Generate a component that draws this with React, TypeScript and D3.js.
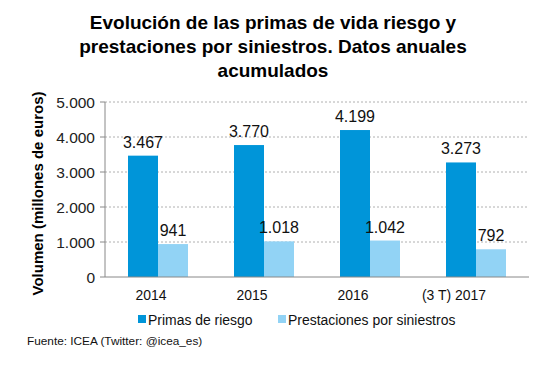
import React from 'react'
import * as d3 from 'd3'

const categories = ['2014', '2015', '2016', '(3 T) 2017']
const primas = [3467, 3770, 4199, 3273]
const prestaciones = [941, 1018, 1042, 792]
const seriesNames = ['Primas de riesgo', 'Prestaciones por siniestros']
const yTicks = [0, 1000, 2000, 3000, 4000, 5000]
const titleLines = ['Evolución de las primas de vida riesgo y', 'prestaciones por siniestros. Datos anuales', 'acumulados']

const colors = ['#0095d9', '#92d3f5']
const font = 'Arial, "Liberation Sans", sans-serif'

const fmt = (v: number) => d3.format(',')(v).replace(/,/g, '.')

const App = () => {
  const width = 546
  const height = 365
  const left = 105
  const right = 529
  const top = 102
  const bottom = 277

  const x = d3.scaleBand().domain(categories).range([left, right])
  // category labels sit slightly left of the bars in the original
  const xLabel = d3.scaleBand().domain(categories).range([100.5, 504.5])
  const y = d3.scaleLinear().domain([0, 5000]).range([bottom, top])
  const barW = 30
  const squeeze = 0.9 // x labels and legend look narrower in the source

  const series = [primas, prestaciones]

  return (
    <svg width={width} height={height} style={{ position: 'absolute', left: 0, top: 0 }} fontFamily={font}>
      <rect width={width} height={height} fill="#fff" />
      {titleLines.map((t, i) => (
        <text key={i} x={273} y={29 + i * 24} textAnchor="middle" fontSize={19} fontWeight="bold" fill="#000">{t}</text>
      ))}
      {yTicks.map(t => (
        <g key={t}>
          {t > 0 && <line x1={left} x2={right} y1={y(t)} y2={y(t)} stroke="#b0b0b0" strokeDasharray="2,2" />}
          <line x1={left - 5} x2={left} y1={y(t)} y2={y(t)} stroke="#888" />
          <text x={left - 10} y={y(t) + 5.5} textAnchor="end" fontSize={15.5} fill="#222">{fmt(t)}</text>
        </g>
      ))}
      {categories.map((c, i) => {
        const cx = x(c)! + x.bandwidth() / 2
        return (
          <g key={c}>
            {series.map((s, j) => {
              const bx = cx - barW + j * barW
              return (
                <g key={j}>
                  <rect x={bx} y={y(s[i])} width={barW} height={bottom - y(s[i])} fill={colors[j]} />
                  <text x={bx + barW / 2} y={y(s[i]) - 8} textAnchor="middle" fontSize={16} fill="#111">{fmt(s[i])}</text>
                </g>
              )
            })}
            <text transform={`translate(${xLabel(c)! + xLabel.bandwidth() / 2}, 300) scale(${squeeze}, 1)`} textAnchor="middle" fontSize={15.5} fill="#111">{c}</text>
          </g>
        )
      })}
      <line x1={left} x2={left} y1={top} y2={bottom} stroke="#888" />
      <line x1={left} x2={right} y1={bottom} y2={bottom} stroke="#888" />
      <text transform={`translate(43, ${(top + bottom) / 2 + 4}) rotate(-90)`} textAnchor="middle" fontSize={15} fontWeight="bold" fill="#000">Volumen (millones de euros)</text>
      {seriesNames.map((n, i) => {
        const lx = [138, 278][i]
        return (
          <g key={n}>
            <rect x={lx} y={315} width={8} height={8} fill={colors[i]} />
            <text transform={`translate(${lx + 10}, 324.5) scale(${squeeze}, 1)`} fontSize={15.5} fill="#111">{n}</text>
          </g>
        )
      })}
      <text x={27} y={345} fontSize={11.8} fill="#111">Fuente: ICEA (Twitter:  @icea_es)</text>
    </svg>
  )
}

export default App
